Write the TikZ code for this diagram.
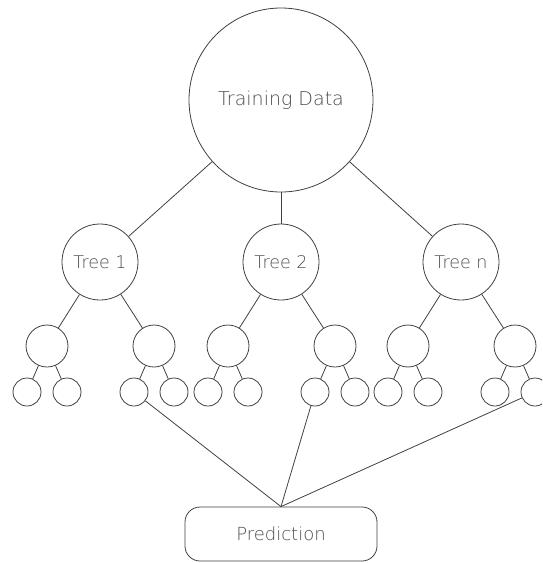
\documentclass[tikz,border=0pt]{standalone}
\usepackage{fontspec}
\newfontfamily\lightfont{DejaVu Sans}[UprightFont=* ExtraLight]
\begin{document}
\begin{tikzpicture}[x=1pt,y=-1pt,
  ln/.style={draw=black!75, line width=0.8pt},
  bubble/.style={circle, ln, inner sep=0pt, font=\lightfont, text=black!70},
  big/.style={bubble, minimum size=184pt, font=\lightfont\fontsize{19}{22}\selectfont},
  treenode/.style={bubble, minimum size=76pt, font=\lightfont\fontsize{17.5}{20}\selectfont},
  mid/.style={bubble, minimum size=42pt},
  leaf/.style={bubble, minimum size=28pt},
  predbox/.style={rectangle, rounded corners=15pt, ln, minimum width=192pt, minimum height=54pt, font=\lightfont\fontsize{18}{21}\selectfont, text=black!70}
]
\useasboundingbox (0,0) rectangle (542,563);
\clip (0,0) rectangle (542,563);
\node[big] (td) at (281,100) {Training Data};
\node[treenode] (t1) at (100,262) {Tree 1};
\node[treenode] (t2) at (281,262) {Tree 2};
\node[treenode] (tn) at (461,262) {Tree n};
\foreach \t/\x in {1/100, 2/281, n/461} {
  \node[mid] (a\t) at ({\x-53},346) {};
  \node[mid] (b\t) at ({\x+54},346) {};
  \node[leaf] (aa\t) at ({\x-73},392) {};
  \node[leaf] (ab\t) at ({\x-33},392) {};
  \node[leaf] (ba\t) at ({\x+34},392) {};
  \node[leaf] (bb\t) at ({\x+74},392) {};
  \draw[ln] (t\t) -- (a\t);
  \draw[ln] (t\t) -- (b\t);
  \draw[ln] (a\t) -- (aa\t);
  \draw[ln] (a\t) -- (ab\t);
  \draw[ln] (b\t) -- (ba\t);
  \draw[ln] (b\t) -- (bb\t);
  \draw[ln] (td) -- (t\t);
}
\node[predbox] (pred) at (281,534) {Prediction};
\draw[ln] (ba1) -- (pred.north);
\draw[ln] (ba2) -- (pred.north);
\draw[ln] (bbn) -- (pred.north);
\end{tikzpicture}
\end{document}
